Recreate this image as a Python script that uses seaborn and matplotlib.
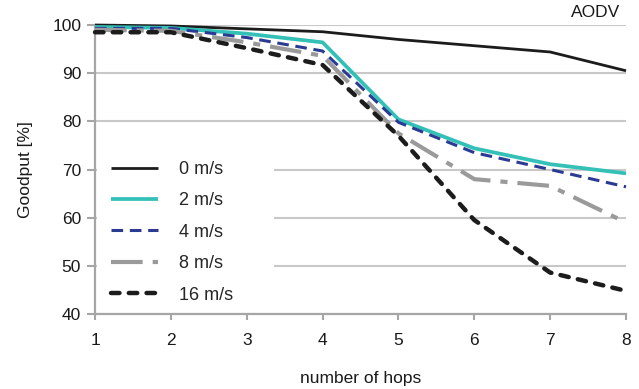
import matplotlib
matplotlib.use("Agg")
import matplotlib.pyplot as plt
import seaborn as sns
import pandas as pd
from matplotlib.patches import Rectangle

hops = [1, 2, 3, 4, 5, 6, 7, 8]
v0 = [100.0, 99.8, 99.2, 98.6, 97.0, 95.7, 94.4, 90.5]
v2 = [99.6, 99.4, 98.2, 96.4, 80.4, 74.4, 71.1, 69.2]
v4 = [99.3, 99.3, 97.4, 94.6, 79.8, 73.5, 70.0, 66.4]
v8 = [99.0, 98.8, 96.4, 93.6, 77.5, 68.0, 66.6, 59.0]
v16 = [98.5, 98.5, 95.2, 91.7, 77.0, 59.5, 48.6, 44.8]
labels = ["0 m/s", "2 m/s", "4 m/s", "8 m/s", "16 m/s"]
yticks = [40, 50, 60, 70, 80, 90, 100]

sns.set_theme(style="white")
plt.rcParams['font.family'] = ['Liberation Sans', 'DejaVu Sans']

fig = plt.figure(figsize=(6.39, 3.89), dpi=100)
ax = fig.add_axes([0.1487, 0.1928, 0.831, 0.7429])

styles = [
    dict(color="#1c1c1c", lw=2.0, ls="-", cap="butt"),
    dict(color="#33c0b6", lw=2.7, ls="-", cap="butt"),
    dict(color="#2b3a93", lw=2.2, ls=(0, (3.8, 2.2)), cap="butt"),
    dict(color="#9a9a9a", lw=3.0, ls=(0, (7.6, 2.4, 1.7, 2.4)), cap="butt"),
    dict(color="#1c1c1c", lw=3.2, ls=(0, (1.9, 2.1)), cap="round"),
]
series = [v0, v2, v4, v8, v16]
handles = []
for vals, lab, st in zip(series, labels, styles):
    df = pd.DataFrame({"hops": hops, "goodput": vals})
    sns.lineplot(data=df, x="hops", y="goodput", ax=ax, color=st["color"],
                 linewidth=st["lw"], linestyle=st["ls"], label=lab, legend=False,
                 clip_on=False, zorder=3)
    line = ax.lines[-1]
    line.set_dash_capstyle(st["cap"])
    line.set_solid_capstyle("butt")
    handles.append(line)

ax.set_xlim(1, 8)
ax.set_ylim(40, 100)
ax.set_xticks(hops)
ax.set_yticks(yticks)
ax.yaxis.grid(True, color="#c8c8c8", linewidth=1.5)
ax.xaxis.grid(False)
ax.set_axisbelow(True)

for s in ["top", "right"]:
    ax.spines[s].set_visible(False)
for s in ["left", "bottom"]:
    ax.spines[s].set_color("#a6a6a6")
    ax.spines[s].set_linewidth(1.6)

ax.tick_params(axis="both", which="both", direction="out", color="#a6a6a6",
               width=1.5, labelsize=12.5, labelcolor="#1a1a1a")
ax.tick_params(axis="y", length=6, pad=4)
ax.tick_params(axis="x", length=4.5, pad=9)
ax.yaxis.set_ticks_position("left")
ax.xaxis.set_ticks_position("bottom")

ax.set_xlabel("number of hops", fontsize=12.5, color="#1a1a1a", labelpad=17)
ax.set_ylabel("Goodput [%]", fontsize=12.5, color="#1a1a1a", labelpad=14)

ax.add_patch(Rectangle((0.003, 0.014), 0.334, 0.553, transform=ax.transAxes,
                       facecolor="white", edgecolor="none", zorder=1))

ax.legend(handles=handles, labels=labels, loc="upper left",
          bbox_to_anchor=(0.03, 0.53), frameon=False, fontsize=13,
          handlelength=2.6, handletextpad=1.15, labelspacing=0.8,
          borderpad=0, borderaxespad=0)

ax.text(0.989, 1.045, "AODV", transform=ax.transAxes, ha="right", va="center",
        fontsize=12.5, color="#1a1a1a")

fig.savefig("out.png", dpi=100)
